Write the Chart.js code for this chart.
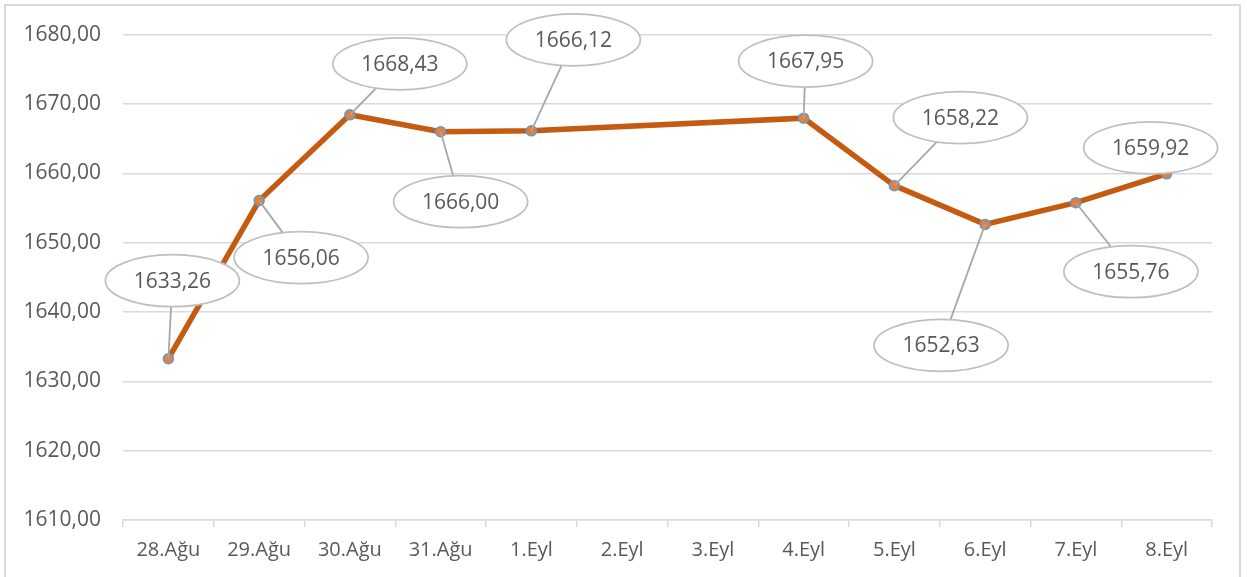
<!DOCTYPE html>
<html lang="tr">
<head>
    <meta charset="UTF-8">
    <title>Fiyat Grafiği</title>
    <script src="https://cdn.jsdelivr.net/npm/chart.js"></script>
    <style>
        html, body { margin: 0; padding: 0; background: #fff; }
        #wrap { width: 1247px; height: 577px; position: relative; }
    </style>
</head>
<body>
    <div id="wrap"><canvas id="priceChart"></canvas></div>

    <script>
        // chart data
        const dates = ['28.Ağu', '29.Ağu', '30.Ağu', '31.Ağu', '1.Eyl', '2.Eyl', '3.Eyl', '4.Eyl', '5.Eyl', '6.Eyl', '7.Eyl', '8.Eyl'];
        const prices = [1633.26, 1656.06, 1668.43, 1666.00, 1666.12, null, null, 1667.95, 1658.22, 1652.63, 1655.76, 1659.92];
        const yTicks = { min: 1610, max: 1680, step: 10 };

        // where each callout bubble sits relative to its point (px)
        const calloutOffsets = [[4, -78], [42, 57], [50, -51], [20, 70], [42, -91], null, null, [2, -57], [66, -68], [-44, 121], [55, 69], [-16, -26]];

        const fmt = v => v.toFixed(2).replace('.', ',');
        const FONT = "'Open Sans', 'Liberation Sans', sans-serif";

        // ellipse callouts with leader lines
        const calloutPlugin = {
            id: 'callouts',
            afterDatasetsDraw(chart) {
                const ctx = chart.ctx;
                const meta = chart.getDatasetMeta(0);
                ctx.save();
                meta.data.forEach((pt, i) => {
                    const off = calloutOffsets[i];
                    if (prices[i] === null || !off) return;
                    const cx = pt.x + off[0], cy = pt.y + off[1];
                    ctx.beginPath();
                    ctx.moveTo(pt.x, pt.y);
                    ctx.lineTo(cx, cy);
                    ctx.strokeStyle = '#a6a6a6';
                    ctx.lineWidth = 1.75;
                    ctx.stroke();

                    ctx.beginPath();
                    ctx.ellipse(cx, cy, 67, 26, 0, 0, Math.PI * 2);
                    ctx.fillStyle = '#ffffff';
                    ctx.fill();
                    ctx.strokeStyle = '#bfbfbf';
                    ctx.lineWidth = 1.75;
                    ctx.stroke();

                    ctx.fillStyle = '#595959';
                    ctx.font = '21px ' + FONT;
                    ctx.textAlign = 'center';
                    ctx.textBaseline = 'middle';
                    ctx.fillText(fmt(prices[i]), cx, cy + 1);
                });
                ctx.restore();
            }
        };

        // light frame round the whole chart
        const framePlugin = {
            id: 'frame',
            afterDraw(chart) {
                const ctx = chart.ctx;
                ctx.save();
                ctx.strokeStyle = '#d9d9d9';
                ctx.lineWidth = 2;
                ctx.strokeRect(5, 5, 1235, 600);
                ctx.restore();
            }
        };

        new Chart(document.getElementById('priceChart'), {
            type: 'line',
            data: {
                labels: dates,
                datasets: [{
                    data: prices,
                    borderColor: '#c55a11',
                    borderWidth: 5.5,
                    pointRadius: 5,
                    pointBorderWidth: 1.5,
                    pointBackgroundColor: '#ed7d31',
                    pointBorderColor: '#5b9bd5',
                    tension: 0,
                    spanGaps: true
                }]
            },
            options: {
                responsive: true,
                maintainAspectRatio: false,
                animation: false,
                layout: { padding: { top: 33, right: 35, left: 0, bottom: 0 } },
                plugins: { legend: { display: false }, tooltip: { enabled: false } },
                scales: {
                    x: {
                        offset: true,
                        afterFit: s => { s.height = 57; },
                        grid: { offset: true, drawOnChartArea: false, drawTicks: true, tickLength: 7, color: '#d9d9d9', lineWidth: 1.5 },
                        border: { color: '#d9d9d9', width: 1.5 },
                        ticks: { color: '#595959', font: { family: FONT, size: 20 }, padding: 11, maxRotation: 0, autoSkip: false }
                    },
                    y: {
                        min: yTicks.min,
                        max: yTicks.max,
                        afterFit: s => { s.width = 123; },
                        grid: { color: '#d9d9d9', lineWidth: 1.5, drawTicks: false },
                        border: { display: false },
                        ticks: {
                            stepSize: yTicks.step,
                            color: '#595959',
                            font: { family: FONT, size: 21 },
                            padding: 22,
                            callback: v => fmt(v)
                        }
                    }
                }
            },
            plugins: [calloutPlugin, framePlugin]
        });
    </script>
</body>
</html>
